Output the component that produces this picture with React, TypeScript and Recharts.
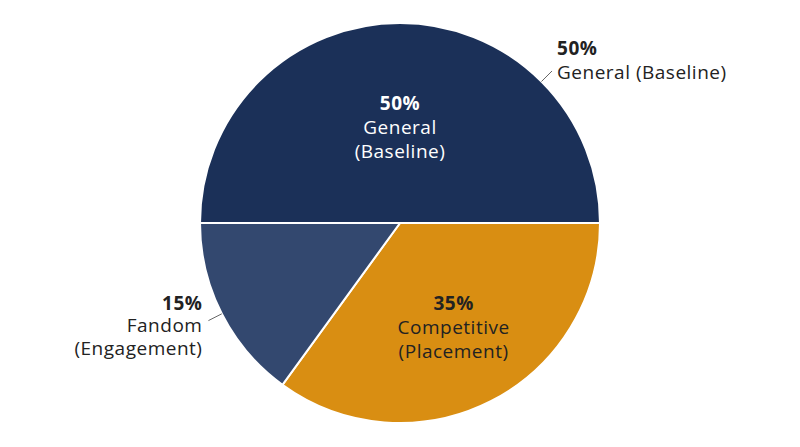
import { PieChart, Pie, Cell } from 'recharts';

const shortNames = ['General', 'Competitive', 'Fandom'];
const subtitles = ['(Baseline)', '(Placement)', '(Engagement)'];
const shareValues = [50, 35, 15];
const sliceColors = ['#1b3058', '#d98e12', '#33486f'];
const calloutNames = ['General', 'Fandom'];

const data = shortNames.map((name, i) => ({ name, subtitle: subtitles[i], value: shareValues[i] }));

const RADIAN = Math.PI / 180;
const FONT = '"Open Sans", sans-serif';
const FS = 19;
const LS = 0.5;

function renderLabel(props: any) {
  const { cx, cy, midAngle, outerRadius, startAngle, endAngle, index, value } = props;
  const entry = data[index];
  const parts: any[] = [];
  const hasInside = value >= 20;

  if (hasInside) {
    // near the slice centroid
    const cos = Math.cos(-midAngle * RADIAN);
    const sin = Math.sin(-midAngle * RADIAN);
    const half = (Math.abs(endAngle - startAngle) / 2) * RADIAN;
    const r = (2 * outerRadius * Math.sin(half)) / (3 * half) + 10;
    const x = cx + r * cos;
    const y = cy + r * sin;
    const color = index === 1 ? '#222' : '#fff';
    parts.push(
      <text key="in" x={x} y={y} textAnchor="middle" fill={color} fontFamily={FONT} fontSize={FS} letterSpacing={LS}>
        <tspan x={x} dy={-18} fontWeight={700}>{value}%</tspan>
        <tspan x={x} dy={24}>{entry.name}</tspan>
        <tspan x={x} dy={24}>{entry.subtitle}</tspan>
      </text>
    );
  }

  if (calloutNames.includes(entry.name)) {
    // slices that already carry an inside label get the callout on their trailing half
    const angle = hasInside ? (midAngle + endAngle) / 2 : midAngle;
    const cos = Math.cos(-angle * RADIAN);
    const sin = Math.sin(-angle * RADIAN);
    const sx = cx + outerRadius * cos;
    const sy = cy + outerRadius * sin;
    const ex = cx + (outerRadius + 15) * cos;
    const ey = cy + (outerRadius + 15) * sin;
    parts.push(<path key="ln" d={`M${sx},${sy}L${ex},${ey}`} stroke="#666" strokeWidth={1} fill="none" />);
    if (cos >= 0) {
      const tx = ex + 5;
      parts.push(
        <text key="out" x={tx} y={ey} textAnchor="start" fill="#222" fontFamily={FONT} fontSize={FS} letterSpacing={LS}>
          <tspan x={tx} dy={-16} fontWeight={700}>{value}%</tspan>
          <tspan x={tx} dy={24}>{entry.name} {entry.subtitle}</tspan>
        </text>
      );
    } else {
      const tx = ex - 6;
      parts.push(
        <text key="out" x={tx} y={ey} textAnchor="end" fill="#222" fontFamily={FONT} fontSize={FS} letterSpacing={LS}>
          <tspan x={tx} dy={-11} fontWeight={700}>{value}%</tspan>
          <tspan x={tx} dy={22}>{entry.name}</tspan>
          <tspan x={tx} dy={23}>{entry.subtitle}</tspan>
        </text>
      );
    }
  }

  return <g>{parts}</g>;
}

export default function App() {
  return (
    <div style={{ width: 800, height: 447, background: '#fff' }}>
      <style>{'body{margin:0}'}</style>
      <PieChart width={800} height={447} margin={{ top: 0, right: 0, bottom: 0, left: 0 }}>
        <Pie
          data={data}
          dataKey="value"
          nameKey="name"
          cx={400}
          cy={223}
          outerRadius={200}
          startAngle={180}
          endAngle={-180}
          stroke="#fff"
          strokeWidth={2}
          label={renderLabel}
          labelLine={false}
          isAnimationActive={false}
        >
          {data.map((d, i) => (
            <Cell key={d.name} fill={sliceColors[i]} />
          ))}
        </Pie>
      </PieChart>
    </div>
  );
}
